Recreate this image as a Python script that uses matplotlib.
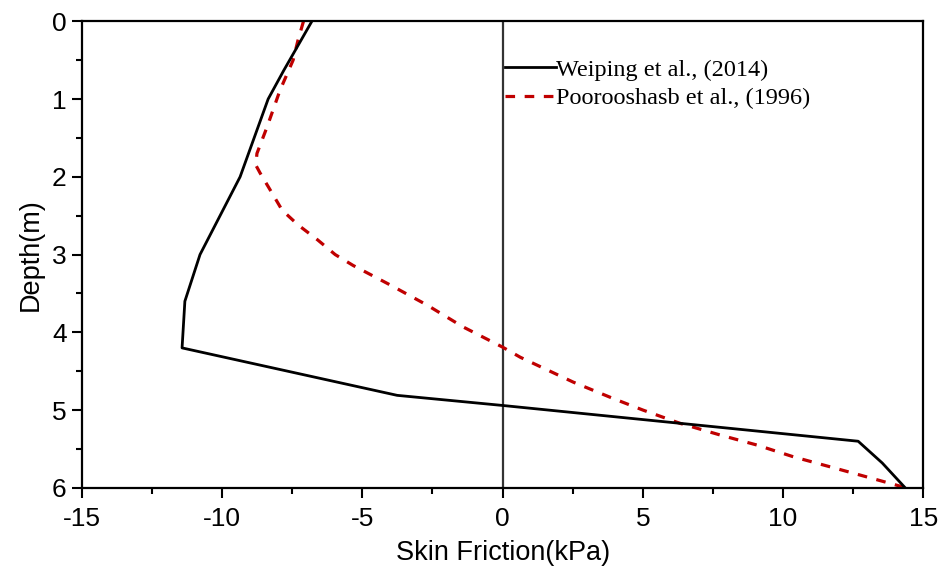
import matplotlib
matplotlib.use("Agg")
import matplotlib.pyplot as plt
from matplotlib.ticker import MultipleLocator

# Weiping et al., (2014)
weiping_x = [-6.8, -7.8, -8.36, -9.36, -10.79, -11.33, -11.43, -3.76, 0.0, 12.68, 13.54, 14.36]
weiping_depth = [0.0, 0.63, 1.0, 2.0, 3.0, 3.6, 4.2, 4.81, 4.94, 5.40, 5.68, 6.0]

# Poorooshasb et al., (1996)
poor_x = [-7.1, -7.3, -7.47, -7.94, -8.4, -8.76, -8.8, -8.65, -8.22, -7.86, -7.29, -6.6, -5.97,
          -5.33, -4.01, -2.69, -1.41, 0.0, 0.63, 2.52, 3.94, 5.01, 6.33, 7.76, 9.08, 10.37,
          11.69, 13.0, 14.4]
poor_depth = [0.0, 0.25, 0.5, 0.89, 1.36, 1.7, 1.85, 1.95, 2.21, 2.43, 2.62, 2.81, 3.0,
              3.14, 3.39, 3.65, 3.93, 4.19, 4.32, 4.64, 4.85, 5.0, 5.17, 5.32, 5.45, 5.6,
              5.73, 5.86, 6.0]

x_ticks = [-15, -10, -5, 0, 5, 10, 15]
y_ticks = [0, 1, 2, 3, 4, 5, 6]

plt.rcParams["axes.unicode_minus"] = False

fig = plt.figure(figsize=(9.41, 5.74), dpi=100)
ax = fig.add_axes([0.0871, 0.150, 0.894, 0.813])

ax.axvline(0, color="#333333", lw=1.6, zorder=1)
ax.plot(weiping_x, weiping_depth, color="black", lw=2.0, label="Weiping et al., (2014)", zorder=3)
ax.plot(poor_x, poor_depth, color="#c00000", lw=2.3, ls=(0, (3, 3)),
        label="Poorooshasb et al., (1996)", zorder=2)

ax.set_xlim(-15, 15)
ax.set_ylim(6, 0)
ax.set_xticks(x_ticks)
ax.set_yticks(y_ticks)
ax.set_xticklabels([str(v) for v in x_ticks])
ax.set_yticklabels([str(v) for v in y_ticks])
ax.xaxis.set_minor_locator(MultipleLocator(2.5))
ax.yaxis.set_minor_locator(MultipleLocator(0.5))

for s in ax.spines.values():
    s.set_linewidth(1.6)
    s.set_color("black")

ax.tick_params(which="major", direction="out", length=7, width=1.5, labelsize=19,
               top=False, right=False)
ax.tick_params(axis="x", which="major", pad=7)
ax.tick_params(axis="y", which="major", pad=4)
ax.tick_params(which="minor", direction="out", length=4, width=1.5, top=False, right=False)
for lab in ax.get_xticklabels() + ax.get_yticklabels():
    lab.set_family("Liberation Sans")

ax.set_xlabel("Skin Friction(kPa)", fontsize=19.5, family="Liberation Sans", labelpad=6)
ax.set_ylabel("Depth(m)", fontsize=19.5, family="Liberation Sans", labelpad=6)

leg = ax.legend(loc="upper left", bbox_to_anchor=(0.503, 0.92), frameon=False,
                prop={"family": "Liberation Serif", "size": 17.5},
                handlelength=2.1, handletextpad=0.0, borderaxespad=0, borderpad=0,
                labelspacing=0.28)

fig.savefig("out.png", dpi=100)
